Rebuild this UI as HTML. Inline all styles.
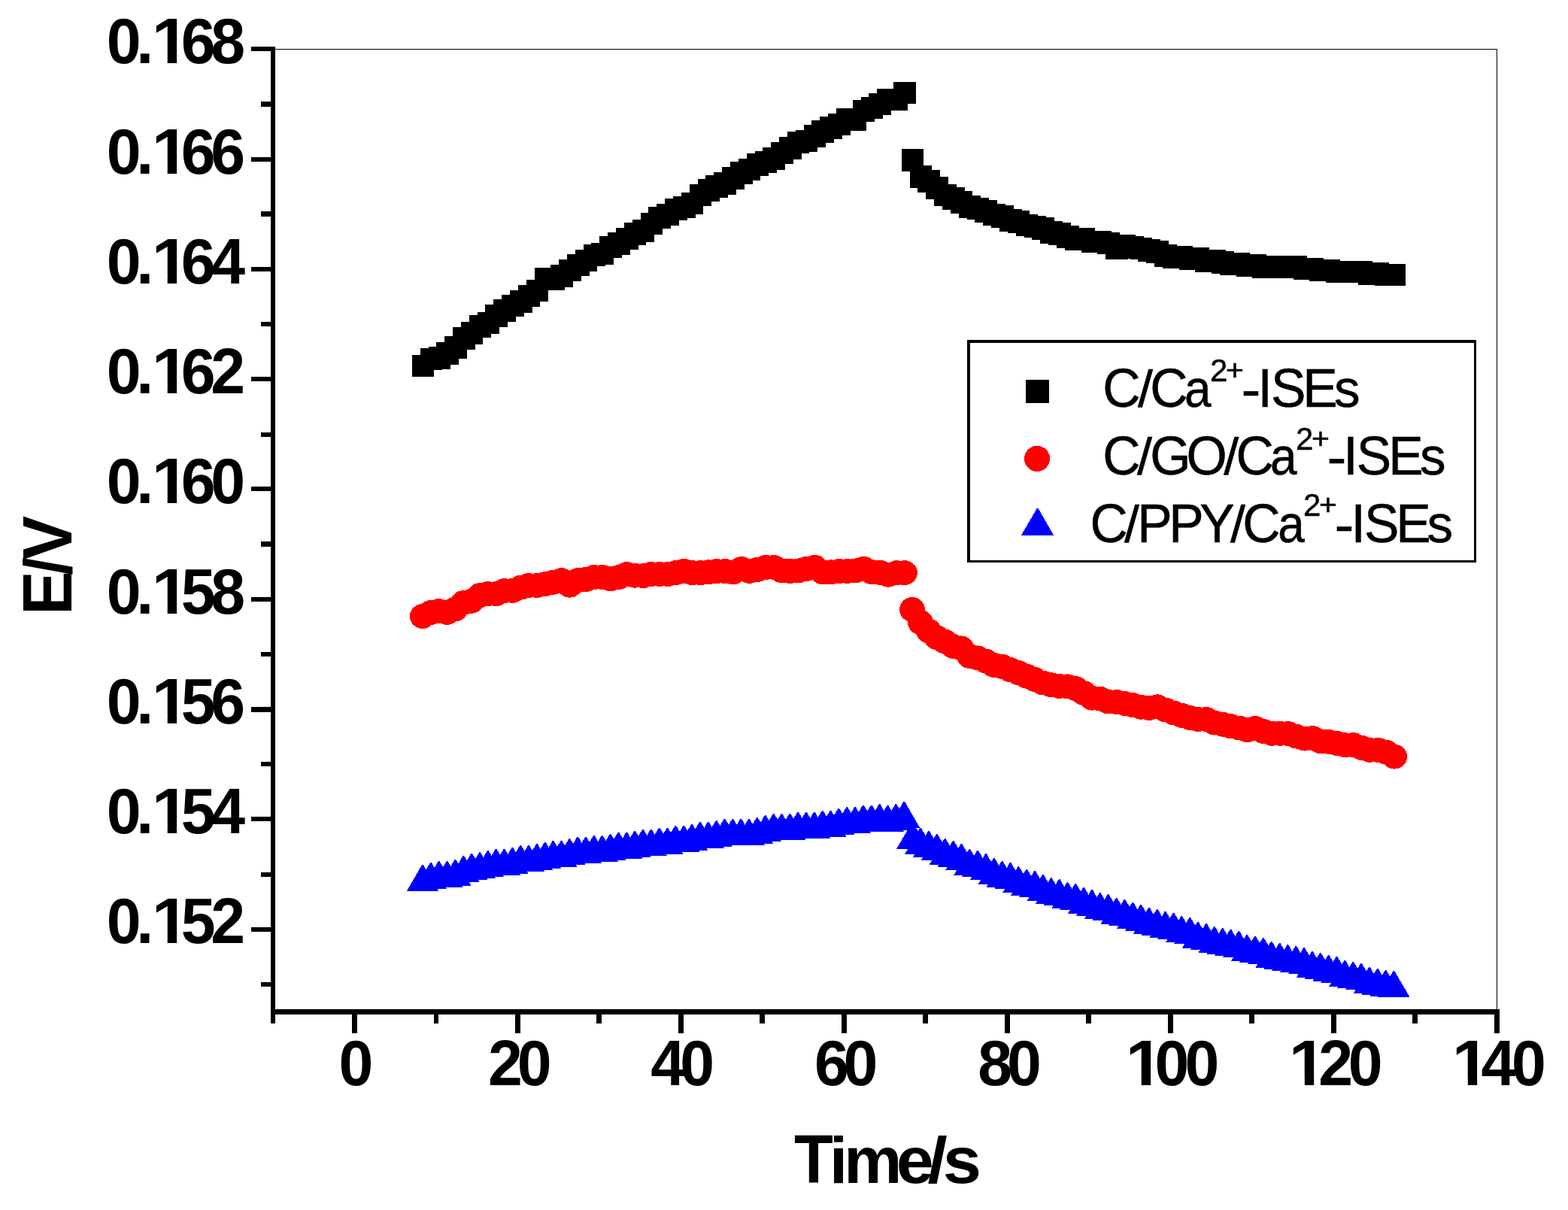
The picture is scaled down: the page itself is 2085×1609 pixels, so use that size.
<!DOCTYPE html>
<html lang="en">
<head>
<meta charset="utf-8">
<title>E/V vs Time/s</title>
<style>
html,body{margin:0;padding:0;background:#fff;}
body{width:2085px;height:1609px;overflow:hidden;}
svg{display:block;}
text{font-family:"Liberation Sans",sans-serif;fill:#000;white-space:pre;}
text.b{font-weight:bold;}
text.r{font-weight:normal;stroke:#000;stroke-width:0.5px;stroke-linejoin:miter;}
</style>
</head>
<body>
<svg width="2085" height="1609" viewBox="0 0 2085 1609">
<rect x="0" y="0" width="2085" height="1609" fill="#fff"/>
<g id="axes" shape-rendering="crispEdges" fill="#000">
<rect x="366" y="65" width="1625" height="1"/>
<rect x="1990" y="65" width="1" height="1277"/>
<rect x="360" y="62" width="6" height="1299"/>
<rect x="360" y="1342" width="1634" height="7"/>
<rect x="334" y="62" width="26" height="6"/>
<rect x="334" y="209" width="26" height="6"/>
<rect x="334" y="355" width="26" height="6"/>
<rect x="334" y="501" width="26" height="6"/>
<rect x="334" y="647" width="26" height="6"/>
<rect x="334" y="794" width="26" height="6"/>
<rect x="334" y="940" width="26" height="7"/>
<rect x="334" y="1086" width="26" height="6"/>
<rect x="334" y="1233" width="26" height="6"/>
<rect x="347" y="135" width="13" height="7"/>
<rect x="347" y="281" width="13" height="7"/>
<rect x="347" y="428" width="13" height="6"/>
<rect x="347" y="575" width="13" height="6"/>
<rect x="347" y="720" width="13" height="7"/>
<rect x="347" y="867" width="13" height="6"/>
<rect x="347" y="1013" width="13" height="6"/>
<rect x="347" y="1160" width="13" height="6"/>
<rect x="347" y="1306" width="13" height="6"/>
<rect x="468" y="1349" width="7" height="25"/>
<rect x="685" y="1349" width="7" height="25"/>
<rect x="902" y="1349" width="7" height="25"/>
<rect x="1119" y="1349" width="7" height="25"/>
<rect x="1336" y="1349" width="7" height="25"/>
<rect x="1553" y="1349" width="7" height="25"/>
<rect x="1770" y="1349" width="7" height="25"/>
<rect x="1987" y="1349" width="7" height="25"/>
<rect x="577" y="1349" width="6" height="12"/>
<rect x="793" y="1349" width="7" height="12"/>
<rect x="1010" y="1349" width="7" height="12"/>
<rect x="1227" y="1349" width="7" height="12"/>
<rect x="1444" y="1349" width="7" height="12"/>
<rect x="1661" y="1349" width="7" height="12"/>
<rect x="1878" y="1349" width="7" height="12"/>
</g>
<g id="series-c" shape-rendering="crispEdges" fill="#000">
<rect x="548" y="472" width="29" height="29"/>
<rect x="559" y="463" width="29" height="29"/>
<rect x="570" y="461" width="29" height="30"/>
<rect x="580" y="455" width="30" height="30"/>
<rect x="591" y="447" width="30" height="30"/>
<rect x="602" y="435" width="30" height="30"/>
<rect x="613" y="428" width="29" height="30"/>
<rect x="624" y="419" width="29" height="30"/>
<rect x="635" y="415" width="29" height="29"/>
<rect x="645" y="405" width="30" height="30"/>
<rect x="656" y="398" width="30" height="30"/>
<rect x="667" y="392" width="30" height="29"/>
<rect x="678" y="386" width="30" height="30"/>
<rect x="689" y="379" width="29" height="29"/>
<rect x="700" y="372" width="29" height="29"/>
<rect x="711" y="356" width="29" height="30"/>
<rect x="721" y="356" width="30" height="30"/>
<rect x="732" y="352" width="30" height="30"/>
<rect x="743" y="345" width="30" height="29"/>
<rect x="754" y="338" width="30" height="29"/>
<rect x="765" y="332" width="29" height="29"/>
<rect x="776" y="325" width="29" height="29"/>
<rect x="786" y="323" width="30" height="29"/>
<rect x="797" y="314" width="30" height="29"/>
<rect x="808" y="309" width="30" height="30"/>
<rect x="819" y="303" width="30" height="29"/>
<rect x="830" y="296" width="29" height="30"/>
<rect x="841" y="292" width="29" height="30"/>
<rect x="852" y="283" width="29" height="29"/>
<rect x="862" y="275" width="30" height="29"/>
<rect x="873" y="271" width="30" height="29"/>
<rect x="884" y="264" width="30" height="29"/>
<rect x="895" y="261" width="30" height="29"/>
<rect x="906" y="256" width="29" height="29"/>
<rect x="917" y="245" width="29" height="29"/>
<rect x="928" y="238" width="29" height="30"/>
<rect x="938" y="233" width="30" height="30"/>
<rect x="949" y="229" width="30" height="30"/>
<rect x="960" y="222" width="30" height="30"/>
<rect x="971" y="215" width="30" height="30"/>
<rect x="982" y="211" width="29" height="29"/>
<rect x="993" y="204" width="29" height="30"/>
<rect x="1004" y="201" width="29" height="29"/>
<rect x="1014" y="196" width="30" height="30"/>
<rect x="1025" y="189" width="30" height="29"/>
<rect x="1036" y="182" width="30" height="30"/>
<rect x="1047" y="175" width="29" height="29"/>
<rect x="1058" y="173" width="29" height="29"/>
<rect x="1069" y="166" width="29" height="30"/>
<rect x="1079" y="160" width="30" height="30"/>
<rect x="1090" y="155" width="30" height="30"/>
<rect x="1101" y="151" width="30" height="29"/>
<rect x="1112" y="144" width="30" height="30"/>
<rect x="1123" y="144" width="29" height="30"/>
<rect x="1134" y="133" width="29" height="29"/>
<rect x="1145" y="129" width="29" height="29"/>
<rect x="1155" y="124" width="30" height="29"/>
<rect x="1166" y="118" width="30" height="29"/>
<rect x="1177" y="118" width="30" height="29"/>
<rect x="1188" y="109" width="30" height="29"/>
<rect x="1199" y="198" width="29" height="30"/>
<rect x="1210" y="220" width="29" height="30"/>
<rect x="1220" y="226" width="30" height="30"/>
<rect x="1231" y="235" width="30" height="30"/>
<rect x="1242" y="245" width="30" height="29"/>
<rect x="1253" y="249" width="30" height="30"/>
<rect x="1264" y="254" width="29" height="30"/>
<rect x="1275" y="260" width="29" height="30"/>
<rect x="1286" y="263" width="29" height="29"/>
<rect x="1296" y="266" width="30" height="30"/>
<rect x="1307" y="271" width="30" height="29"/>
<rect x="1318" y="273" width="30" height="30"/>
<rect x="1329" y="278" width="30" height="30"/>
<rect x="1340" y="280" width="29" height="30"/>
<rect x="1351" y="285" width="29" height="29"/>
<rect x="1362" y="287" width="29" height="29"/>
<rect x="1372" y="289" width="30" height="30"/>
<rect x="1383" y="294" width="30" height="30"/>
<rect x="1394" y="296" width="30" height="30"/>
<rect x="1405" y="300" width="30" height="30"/>
<rect x="1416" y="303" width="29" height="30"/>
<rect x="1427" y="303" width="29" height="30"/>
<rect x="1438" y="307" width="29" height="29"/>
<rect x="1448" y="307" width="30" height="29"/>
<rect x="1459" y="309" width="30" height="29"/>
<rect x="1470" y="316" width="30" height="29"/>
<rect x="1481" y="312" width="29" height="29"/>
<rect x="1492" y="314" width="29" height="30"/>
<rect x="1503" y="316" width="29" height="29"/>
<rect x="1513" y="318" width="30" height="30"/>
<rect x="1524" y="320" width="30" height="30"/>
<rect x="1535" y="325" width="30" height="30"/>
<rect x="1546" y="327" width="30" height="30"/>
<rect x="1557" y="327" width="29" height="30"/>
<rect x="1568" y="329" width="29" height="30"/>
<rect x="1579" y="329" width="29" height="30"/>
<rect x="1589" y="332" width="30" height="30"/>
<rect x="1600" y="332" width="30" height="30"/>
<rect x="1611" y="334" width="30" height="30"/>
<rect x="1622" y="336" width="30" height="30"/>
<rect x="1633" y="336" width="29" height="30"/>
<rect x="1644" y="338" width="29" height="30"/>
<rect x="1654" y="338" width="30" height="30"/>
<rect x="1665" y="340" width="30" height="30"/>
<rect x="1676" y="340" width="30" height="30"/>
<rect x="1687" y="340" width="30" height="30"/>
<rect x="1698" y="340" width="29" height="30"/>
<rect x="1709" y="340" width="29" height="30"/>
<rect x="1720" y="343" width="29" height="29"/>
<rect x="1730" y="343" width="30" height="29"/>
<rect x="1741" y="345" width="30" height="29"/>
<rect x="1752" y="345" width="30" height="29"/>
<rect x="1763" y="347" width="30" height="29"/>
<rect x="1774" y="347" width="29" height="29"/>
<rect x="1785" y="347" width="29" height="29"/>
<rect x="1796" y="347" width="29" height="29"/>
<rect x="1806" y="349" width="30" height="30"/>
<rect x="1817" y="349" width="30" height="30"/>
<rect x="1828" y="351" width="30" height="29"/>
<rect x="1839" y="351" width="30" height="29"/>
</g>
<g id="series-go" fill="#f00" shape-rendering="crispEdges">
<ellipse cx="561.9" cy="819.5" rx="17" ry="16.5"/>
<ellipse cx="572.8" cy="814.7" rx="17" ry="16.5"/>
<ellipse cx="583.6" cy="812.6" rx="17" ry="16.5"/>
<ellipse cx="594.5" cy="814.5" rx="17" ry="16.5"/>
<ellipse cx="605.4" cy="810.0" rx="17" ry="16.5"/>
<ellipse cx="616.2" cy="801.6" rx="17" ry="16.5"/>
<ellipse cx="627.1" cy="799.2" rx="17" ry="16.5"/>
<ellipse cx="638.0" cy="791.7" rx="17" ry="16.5"/>
<ellipse cx="648.8" cy="789.7" rx="17" ry="16.5"/>
<ellipse cx="659.7" cy="789.7" rx="17" ry="16.5"/>
<ellipse cx="670.5" cy="785.6" rx="17" ry="16.5"/>
<ellipse cx="681.4" cy="785.4" rx="17" ry="16.5"/>
<ellipse cx="692.3" cy="781.2" rx="17" ry="16.5"/>
<ellipse cx="703.1" cy="778.5" rx="17" ry="16.5"/>
<ellipse cx="714.0" cy="778.4" rx="17" ry="16.5"/>
<ellipse cx="724.9" cy="776.7" rx="17" ry="16.5"/>
<ellipse cx="735.7" cy="774.2" rx="17" ry="16.5"/>
<ellipse cx="746.6" cy="771.7" rx="17" ry="16.5"/>
<ellipse cx="757.5" cy="778.2" rx="17" ry="16.5"/>
<ellipse cx="768.3" cy="771.7" rx="17" ry="16.5"/>
<ellipse cx="779.2" cy="770.4" rx="17" ry="16.5"/>
<ellipse cx="790.1" cy="767.5" rx="17" ry="16.5"/>
<ellipse cx="800.9" cy="767.5" rx="17" ry="16.5"/>
<ellipse cx="811.8" cy="769.8" rx="17" ry="16.5"/>
<ellipse cx="822.7" cy="767.5" rx="17" ry="16.5"/>
<ellipse cx="833.5" cy="763.6" rx="17" ry="16.5"/>
<ellipse cx="844.4" cy="765.2" rx="17" ry="16.5"/>
<ellipse cx="855.3" cy="765.6" rx="17" ry="16.5"/>
<ellipse cx="866.1" cy="763.6" rx="17" ry="16.5"/>
<ellipse cx="877.0" cy="763.6" rx="17" ry="16.5"/>
<ellipse cx="887.8" cy="763.6" rx="17" ry="16.5"/>
<ellipse cx="898.7" cy="761.7" rx="17" ry="16.5"/>
<ellipse cx="909.6" cy="759.4" rx="17" ry="16.5"/>
<ellipse cx="920.4" cy="761.7" rx="17" ry="16.5"/>
<ellipse cx="931.3" cy="761.7" rx="17" ry="16.5"/>
<ellipse cx="942.2" cy="760.8" rx="17" ry="16.5"/>
<ellipse cx="953.0" cy="759.4" rx="17" ry="16.5"/>
<ellipse cx="963.9" cy="759.4" rx="17" ry="16.5"/>
<ellipse cx="974.8" cy="761.0" rx="17" ry="16.5"/>
<ellipse cx="985.6" cy="756.5" rx="17" ry="16.5"/>
<ellipse cx="996.5" cy="759.4" rx="17" ry="16.5"/>
<ellipse cx="1007.4" cy="757.5" rx="17" ry="16.5"/>
<ellipse cx="1018.2" cy="754.4" rx="17" ry="16.5"/>
<ellipse cx="1029.1" cy="754.4" rx="17" ry="16.5"/>
<ellipse cx="1040.0" cy="758.9" rx="17" ry="16.5"/>
<ellipse cx="1050.8" cy="759.4" rx="17" ry="16.5"/>
<ellipse cx="1061.7" cy="758.9" rx="17" ry="16.5"/>
<ellipse cx="1072.6" cy="756.4" rx="17" ry="16.5"/>
<ellipse cx="1083.4" cy="754.4" rx="17" ry="16.5"/>
<ellipse cx="1094.3" cy="761.0" rx="17" ry="16.5"/>
<ellipse cx="1105.2" cy="760.8" rx="17" ry="16.5"/>
<ellipse cx="1116.0" cy="759.4" rx="17" ry="16.5"/>
<ellipse cx="1126.9" cy="759.4" rx="17" ry="16.5"/>
<ellipse cx="1137.7" cy="758.9" rx="17" ry="16.5"/>
<ellipse cx="1148.6" cy="756.4" rx="17" ry="16.5"/>
<ellipse cx="1159.5" cy="760.8" rx="17" ry="16.5"/>
<ellipse cx="1170.3" cy="761.3" rx="17" ry="16.5"/>
<ellipse cx="1181.2" cy="764.2" rx="17" ry="16.5"/>
<ellipse cx="1192.1" cy="761.7" rx="17" ry="16.5"/>
<ellipse cx="1202.9" cy="761.7" rx="17" ry="16.5"/>
<ellipse cx="1213.0" cy="810.6" rx="17" ry="16.5"/>
<ellipse cx="1223.9" cy="827.6" rx="17" ry="16.5"/>
<ellipse cx="1234.7" cy="839.0" rx="17" ry="16.5"/>
<ellipse cx="1245.6" cy="847.6" rx="17" ry="16.5"/>
<ellipse cx="1256.5" cy="853.1" rx="17" ry="16.5"/>
<ellipse cx="1267.3" cy="859.4" rx="17" ry="16.5"/>
<ellipse cx="1278.2" cy="861.9" rx="17" ry="16.5"/>
<ellipse cx="1289.1" cy="872.4" rx="17" ry="16.5"/>
<ellipse cx="1299.9" cy="874.9" rx="17" ry="16.5"/>
<ellipse cx="1310.8" cy="879.1" rx="17" ry="16.5"/>
<ellipse cx="1321.7" cy="884.4" rx="17" ry="16.5"/>
<ellipse cx="1332.5" cy="886.3" rx="17" ry="16.5"/>
<ellipse cx="1343.4" cy="890.6" rx="17" ry="16.5"/>
<ellipse cx="1354.2" cy="894.5" rx="17" ry="16.5"/>
<ellipse cx="1365.1" cy="899.2" rx="17" ry="16.5"/>
<ellipse cx="1376.0" cy="903.6" rx="17" ry="16.5"/>
<ellipse cx="1386.8" cy="908.0" rx="17" ry="16.5"/>
<ellipse cx="1397.7" cy="910.8" rx="17" ry="16.5"/>
<ellipse cx="1408.6" cy="912.5" rx="17" ry="16.5"/>
<ellipse cx="1419.4" cy="912.9" rx="17" ry="16.5"/>
<ellipse cx="1430.3" cy="915.6" rx="17" ry="16.5"/>
<ellipse cx="1441.2" cy="921.7" rx="17" ry="16.5"/>
<ellipse cx="1452.0" cy="928.1" rx="17" ry="16.5"/>
<ellipse cx="1462.9" cy="929.2" rx="17" ry="16.5"/>
<ellipse cx="1473.8" cy="933.0" rx="17" ry="16.5"/>
<ellipse cx="1484.6" cy="933.5" rx="17" ry="16.5"/>
<ellipse cx="1495.5" cy="935.5" rx="17" ry="16.5"/>
<ellipse cx="1506.4" cy="937.7" rx="17" ry="16.5"/>
<ellipse cx="1517.2" cy="940.2" rx="17" ry="16.5"/>
<ellipse cx="1528.1" cy="941.6" rx="17" ry="16.5"/>
<ellipse cx="1539.0" cy="939.8" rx="17" ry="16.5"/>
<ellipse cx="1549.8" cy="944.0" rx="17" ry="16.5"/>
<ellipse cx="1560.7" cy="948.0" rx="17" ry="16.5"/>
<ellipse cx="1571.5" cy="951.3" rx="17" ry="16.5"/>
<ellipse cx="1582.4" cy="954.5" rx="17" ry="16.5"/>
<ellipse cx="1593.3" cy="956.5" rx="17" ry="16.5"/>
<ellipse cx="1604.1" cy="956.6" rx="17" ry="16.5"/>
<ellipse cx="1615.0" cy="961.1" rx="17" ry="16.5"/>
<ellipse cx="1625.9" cy="963.2" rx="17" ry="16.5"/>
<ellipse cx="1636.7" cy="965.7" rx="17" ry="16.5"/>
<ellipse cx="1647.6" cy="968.0" rx="17" ry="16.5"/>
<ellipse cx="1658.5" cy="970.6" rx="17" ry="16.5"/>
<ellipse cx="1669.3" cy="968.5" rx="17" ry="16.5"/>
<ellipse cx="1680.2" cy="972.6" rx="17" ry="16.5"/>
<ellipse cx="1691.1" cy="975.3" rx="17" ry="16.5"/>
<ellipse cx="1701.9" cy="975.3" rx="17" ry="16.5"/>
<ellipse cx="1712.8" cy="975.6" rx="17" ry="16.5"/>
<ellipse cx="1723.7" cy="979.1" rx="17" ry="16.5"/>
<ellipse cx="1734.5" cy="982.0" rx="17" ry="16.5"/>
<ellipse cx="1745.4" cy="981.6" rx="17" ry="16.5"/>
<ellipse cx="1756.2" cy="985.8" rx="17" ry="16.5"/>
<ellipse cx="1767.1" cy="986.4" rx="17" ry="16.5"/>
<ellipse cx="1778.0" cy="988.5" rx="17" ry="16.5"/>
<ellipse cx="1788.8" cy="990.8" rx="17" ry="16.5"/>
<ellipse cx="1799.7" cy="990.6" rx="17" ry="16.5"/>
<ellipse cx="1810.6" cy="994.4" rx="17" ry="16.5"/>
<ellipse cx="1821.4" cy="997.3" rx="17" ry="16.5"/>
<ellipse cx="1832.3" cy="997.3" rx="17" ry="16.5"/>
<ellipse cx="1843.2" cy="1000.2" rx="17" ry="16.5"/>
<ellipse cx="1854.0" cy="1006.1" rx="17" ry="16.5"/>
</g>
<g id="series-ppy" fill="#00f" shape-rendering="crispEdges">
<path d="M561.2 1149.9h1.6L583.2 1184.9H540.8Z"/>
<path d="M572.1 1146.9h1.6L594.1 1181.9H551.6Z"/>
<path d="M582.9 1145.1h1.6L605.0 1180.1H562.5Z"/>
<path d="M593.8 1145.1h1.6L615.8 1180.1H573.3Z"/>
<path d="M604.6 1143.0h1.6L626.6 1178.0H584.1Z"/>
<path d="M615.5 1138.0h1.6L637.5 1173.0H595.0Z"/>
<path d="M626.3 1135.0h1.6L648.4 1170.0H605.9Z"/>
<path d="M637.2 1133.4h1.6L659.2 1168.4H616.7Z"/>
<path d="M648.0 1131.1h1.6L670.0 1166.1H627.5Z"/>
<path d="M658.9 1128.8h1.6L680.9 1163.8H638.4Z"/>
<path d="M669.7 1128.8h1.6L691.8 1163.8H649.2Z"/>
<path d="M680.6 1126.9h1.6L702.6 1161.9H660.1Z"/>
<path d="M691.4 1124.0h1.6L713.5 1159.0H671.0Z"/>
<path d="M702.2 1124.0h1.6L724.3 1159.0H681.8Z"/>
<path d="M713.1 1122.1h1.6L735.1 1157.1H692.6Z"/>
<path d="M724.0 1119.8h1.6L746.0 1154.8H703.5Z"/>
<path d="M734.8 1117.9h1.6L756.9 1152.9H714.4Z"/>
<path d="M745.7 1117.9h1.6L767.7 1152.9H725.2Z"/>
<path d="M756.5 1115.2h1.6L778.5 1150.2H736.0Z"/>
<path d="M767.4 1112.9h1.6L789.4 1147.9H746.9Z"/>
<path d="M778.2 1112.9h1.6L800.2 1147.9H757.8Z"/>
<path d="M789.1 1111.0h1.6L811.1 1146.0H768.6Z"/>
<path d="M799.9 1111.0h1.6L822.0 1146.0H779.5Z"/>
<path d="M810.8 1109.1h1.6L832.8 1144.1H790.3Z"/>
<path d="M821.6 1106.8h1.6L843.6 1141.8H801.1Z"/>
<path d="M832.5 1106.8h1.6L854.5 1141.8H812.0Z"/>
<path d="M843.3 1104.8h1.6L865.3 1139.8H822.8Z"/>
<path d="M854.2 1102.9h1.6L876.2 1137.9H833.7Z"/>
<path d="M865.0 1102.9h1.6L887.0 1137.9H844.5Z"/>
<path d="M875.9 1101.0h1.6L897.9 1136.0H855.4Z"/>
<path d="M886.7 1101.0h1.6L908.8 1136.0H866.2Z"/>
<path d="M897.5 1097.9h1.6L919.6 1132.9H877.1Z"/>
<path d="M908.4 1097.9h1.6L930.5 1132.9H888.0Z"/>
<path d="M919.2 1096.0h1.6L941.3 1131.0H898.8Z"/>
<path d="M930.1 1092.9h1.6L952.1 1127.9H909.6Z"/>
<path d="M941.0 1092.9h1.6L963.0 1127.9H920.5Z"/>
<path d="M951.8 1091.0h1.6L973.8 1126.0H931.3Z"/>
<path d="M962.7 1088.9h1.6L984.7 1123.9H942.2Z"/>
<path d="M973.5 1088.9h1.6L995.5 1123.9H953.0Z"/>
<path d="M984.4 1088.9h1.6L1006.4 1123.9H963.9Z"/>
<path d="M995.2 1088.9h1.6L1017.2 1123.9H974.8Z"/>
<path d="M1006.0 1087.0h1.6L1028.1 1122.0H985.6Z"/>
<path d="M1016.9 1084.1h1.6L1039.0 1119.1H996.5Z"/>
<path d="M1027.8 1082.0h1.6L1049.8 1117.0H1007.3Z"/>
<path d="M1038.6 1082.0h1.6L1060.7 1117.0H1018.2Z"/>
<path d="M1049.5 1082.0h1.6L1071.5 1117.0H1029.0Z"/>
<path d="M1060.3 1079.9h1.6L1082.3 1114.9H1039.8Z"/>
<path d="M1071.2 1079.9h1.6L1093.2 1114.9H1050.7Z"/>
<path d="M1082.0 1079.9h1.6L1104.0 1114.9H1061.5Z"/>
<path d="M1092.9 1078.0h1.6L1114.9 1113.0H1072.4Z"/>
<path d="M1103.7 1078.0h1.6L1125.8 1113.0H1083.2Z"/>
<path d="M1114.5 1074.9h1.6L1136.6 1109.9H1094.1Z"/>
<path d="M1125.4 1073.0h1.6L1147.4 1108.0H1104.9Z"/>
<path d="M1136.2 1073.0h1.6L1158.3 1108.0H1115.8Z"/>
<path d="M1147.1 1070.7h1.6L1169.2 1105.7H1126.7Z"/>
<path d="M1158.0 1070.7h1.6L1180.0 1105.7H1137.5Z"/>
<path d="M1168.8 1069.2h1.6L1190.8 1104.2H1148.3Z"/>
<path d="M1179.6 1070.7h1.6L1201.7 1105.7H1159.2Z"/>
<path d="M1190.5 1069.2h1.6L1212.5 1104.2H1170.0Z"/>
<path d="M1201.4 1065.9h1.6L1223.4 1100.9H1180.9Z"/>
<path d="M1212.5 1094.0h1.6L1234.5 1129.0H1192.0Z"/>
<path d="M1223.3 1101.1h1.6L1245.4 1136.1H1202.9Z"/>
<path d="M1234.2 1105.1h1.6L1256.2 1140.1H1213.8Z"/>
<path d="M1245.0 1109.1h1.6L1267.1 1144.1H1224.6Z"/>
<path d="M1255.9 1115.1h1.6L1278.0 1150.1H1235.5Z"/>
<path d="M1266.8 1118.0h1.6L1288.8 1153.0H1246.3Z"/>
<path d="M1277.6 1122.0h1.6L1299.6 1157.0H1257.1Z"/>
<path d="M1288.5 1129.1h1.6L1310.5 1164.1H1268.0Z"/>
<path d="M1299.3 1131.0h1.6L1321.3 1166.0H1278.8Z"/>
<path d="M1310.2 1135.2h1.6L1332.2 1170.2H1289.7Z"/>
<path d="M1321.0 1141.0h1.6L1343.0 1176.0H1300.5Z"/>
<path d="M1331.8 1145.0h1.6L1353.9 1180.0H1311.4Z"/>
<path d="M1342.7 1147.1h1.6L1364.8 1182.1H1322.2Z"/>
<path d="M1353.5 1152.1h1.6L1375.6 1187.1H1333.1Z"/>
<path d="M1364.4 1156.1h1.6L1386.5 1191.1H1344.0Z"/>
<path d="M1375.2 1158.1h1.6L1397.3 1193.1H1354.8Z"/>
<path d="M1386.1 1163.0h1.6L1408.1 1198.0H1365.6Z"/>
<path d="M1397.0 1167.3h1.6L1419.0 1202.3H1376.5Z"/>
<path d="M1407.8 1169.2h1.6L1429.8 1204.2H1387.3Z"/>
<path d="M1418.7 1173.2h1.6L1440.7 1208.2H1398.2Z"/>
<path d="M1429.5 1175.1h1.6L1451.5 1210.1H1409.0Z"/>
<path d="M1440.3 1180.1h1.6L1462.4 1215.1H1419.9Z"/>
<path d="M1451.2 1183.2h1.6L1473.2 1218.2H1430.8Z"/>
<path d="M1462.0 1187.2h1.6L1484.1 1222.2H1441.6Z"/>
<path d="M1472.9 1189.1h1.6L1494.9 1224.1H1452.4Z"/>
<path d="M1483.8 1194.1h1.6L1505.8 1229.1H1463.3Z"/>
<path d="M1494.6 1196.0h1.6L1516.6 1231.0H1474.1Z"/>
<path d="M1505.5 1200.0h1.6L1527.5 1235.0H1485.0Z"/>
<path d="M1516.3 1202.9h1.6L1538.3 1237.9H1495.8Z"/>
<path d="M1527.1 1207.0h1.6L1549.2 1242.0H1506.7Z"/>
<path d="M1538.0 1209.1h1.6L1560.0 1244.1H1517.5Z"/>
<path d="M1548.8 1211.9h1.6L1570.9 1246.9H1528.4Z"/>
<path d="M1559.7 1213.9h1.6L1581.8 1248.9H1539.2Z"/>
<path d="M1570.5 1218.1h1.6L1592.6 1253.1H1550.1Z"/>
<path d="M1581.4 1220.0h1.6L1603.4 1255.0H1560.9Z"/>
<path d="M1592.2 1225.9h1.6L1614.3 1260.9H1571.8Z"/>
<path d="M1603.1 1228.1h1.6L1625.1 1263.1H1582.6Z"/>
<path d="M1614.0 1232.1h1.6L1636.0 1267.1H1593.5Z"/>
<path d="M1624.8 1234.0h1.6L1646.8 1269.0H1604.3Z"/>
<path d="M1635.6 1235.9h1.6L1657.7 1270.9H1615.2Z"/>
<path d="M1646.5 1238.0h1.6L1668.5 1273.0H1626.0Z"/>
<path d="M1657.3 1243.0h1.6L1679.4 1278.0H1636.9Z"/>
<path d="M1668.2 1244.9h1.6L1690.2 1279.9H1647.8Z"/>
<path d="M1679.0 1247.1h1.6L1701.1 1282.1H1658.6Z"/>
<path d="M1689.9 1252.0h1.6L1711.9 1287.0H1669.4Z"/>
<path d="M1700.8 1254.0h1.6L1722.8 1289.0H1680.3Z"/>
<path d="M1711.6 1256.1h1.6L1733.6 1291.1H1691.1Z"/>
<path d="M1722.5 1258.0h1.6L1744.5 1293.0H1702.0Z"/>
<path d="M1733.3 1260.1h1.6L1755.3 1295.1H1712.8Z"/>
<path d="M1744.1 1265.1h1.6L1766.2 1300.1H1723.7Z"/>
<path d="M1755.0 1267.0h1.6L1777.0 1302.0H1734.5Z"/>
<path d="M1765.9 1270.1h1.6L1787.9 1305.1H1745.4Z"/>
<path d="M1776.7 1272.0h1.6L1798.8 1307.0H1756.2Z"/>
<path d="M1787.5 1277.0h1.6L1809.6 1312.0H1767.1Z"/>
<path d="M1798.4 1279.1h1.6L1820.4 1314.1H1777.9Z"/>
<path d="M1809.2 1281.0h1.6L1831.3 1316.0H1788.8Z"/>
<path d="M1820.1 1286.0h1.6L1842.2 1321.0H1799.7Z"/>
<path d="M1831.0 1287.9h1.6L1853.0 1322.9H1810.5Z"/>
<path d="M1841.8 1290.0h1.6L1863.8 1325.0H1821.3Z"/>
<path d="M1852.6 1291.0h1.6L1874.7 1326.0H1832.2Z"/>
</g>
<g id="ylabels">
<text class="b" transform="translate(0 83.8) scale(1 1.0412)" y="0" font-size="82.4"><tspan x="141.7 181.3">0.</tspan><tspan x="201.7" textLength="50.04" lengthAdjust="spacingAndGlyphs">1</tspan><tspan x="240.8 280.3">68</tspan></text>
<text class="b" transform="translate(0 230.8) scale(1 1.0412)" y="0" font-size="82.4"><tspan x="141.7 181.3">0.</tspan><tspan x="201.7" textLength="50.04" lengthAdjust="spacingAndGlyphs">1</tspan><tspan x="240.8 280.3">66</tspan></text>
<text class="b" transform="translate(0 376.8) scale(1 1.0412)" y="0" font-size="82.4"><tspan x="141.7 181.3">0.</tspan><tspan x="201.7" textLength="50.04" lengthAdjust="spacingAndGlyphs">1</tspan><tspan x="240.8 280.3">64</tspan></text>
<text class="b" transform="translate(0 522.8) scale(1 1.0412)" y="0" font-size="82.4"><tspan x="141.7 181.3">0.</tspan><tspan x="201.7" textLength="50.04" lengthAdjust="spacingAndGlyphs">1</tspan><tspan x="240.8 280.3">62</tspan></text>
<text class="b" transform="translate(0 668.8) scale(1 1.0412)" y="0" font-size="82.4"><tspan x="141.7 181.3">0.</tspan><tspan x="201.7" textLength="50.04" lengthAdjust="spacingAndGlyphs">1</tspan><tspan x="240.8 280.3">60</tspan></text>
<text class="b" transform="translate(0 815.8) scale(1 1.0412)" y="0" font-size="82.4"><tspan x="141.7 181.3">0.</tspan><tspan x="201.7" textLength="50.04" lengthAdjust="spacingAndGlyphs">1</tspan><tspan x="240.8 280.3">58</tspan></text>
<text class="b" transform="translate(0 961.8) scale(1 1.0412)" y="0" font-size="82.4"><tspan x="141.7 181.3">0.</tspan><tspan x="201.7" textLength="50.04" lengthAdjust="spacingAndGlyphs">1</tspan><tspan x="240.8 280.3">56</tspan></text>
<text class="b" transform="translate(0 1107.8) scale(1 1.0412)" y="0" font-size="82.4"><tspan x="141.7 181.3">0.</tspan><tspan x="201.7" textLength="50.04" lengthAdjust="spacingAndGlyphs">1</tspan><tspan x="240.8 280.3">54</tspan></text>
<text class="b" transform="translate(0 1254.3) scale(1 1.0412)" y="0" font-size="82.4"><tspan x="141.7 181.3">0.</tspan><tspan x="201.7" textLength="50.04" lengthAdjust="spacingAndGlyphs">1</tspan><tspan x="240.8 280.3">52</tspan></text>
</g>
<g id="xlabels">
<text class="b" transform="translate(0 1443) scale(1 1.0412)" y="0" font-size="82.4"><tspan x="450.4">0</tspan></text>
<text class="b" transform="translate(0 1443) scale(1 1.0412)" y="0" font-size="82.4"><tspan x="649.1 687.85">20</tspan></text>
<text class="b" transform="translate(0 1443) scale(1 1.0412)" y="0" font-size="82.4"><tspan x="865.35 904.3">40</tspan></text>
<text class="b" transform="translate(0 1443) scale(1 1.0412)" y="0" font-size="82.4"><tspan x="1082.9 1121.4">60</tspan></text>
<text class="b" transform="translate(0 1443) scale(1 1.0412)" y="0" font-size="82.4"><tspan x="1300.3 1339">80</tspan></text>
<text class="b" transform="translate(0 1443) scale(1 1.0412)" y="0" font-size="82.4"><tspan x="1496.75" textLength="50.04" lengthAdjust="spacingAndGlyphs">1</tspan><tspan x="1535.4 1575.6">00</tspan></text>
<text class="b" transform="translate(0 1443) scale(1 1.0412)" y="0" font-size="82.4"><tspan x="1713.85" textLength="50.04" lengthAdjust="spacingAndGlyphs">1</tspan><tspan x="1753.3 1792.75">20</tspan></text>
<text class="b" transform="translate(0 1443) scale(1 1.0412)" y="0" font-size="82.4"><tspan x="1930.85" textLength="50.04" lengthAdjust="spacingAndGlyphs">1</tspan><tspan x="1969.55 2009.9">40</tspan></text>
</g>
<g id="serif-mask" fill="#fff" shape-rendering="crispEdges">
<rect x="207" y="74" width="15" height="10"/>
<rect x="236" y="74" width="11" height="1"/>
<rect x="236" y="75" width="12" height="2"/>
<rect x="236" y="77" width="13" height="1"/>
<rect x="236" y="78" width="14" height="6"/>
<rect x="207" y="221" width="15" height="10"/>
<rect x="236" y="221" width="11" height="1"/>
<rect x="236" y="222" width="12" height="2"/>
<rect x="236" y="224" width="13" height="1"/>
<rect x="236" y="225" width="14" height="6"/>
<rect x="207" y="367" width="15" height="10"/>
<rect x="236" y="367" width="11" height="1"/>
<rect x="236" y="368" width="12" height="2"/>
<rect x="236" y="370" width="13" height="1"/>
<rect x="236" y="371" width="14" height="6"/>
<rect x="207" y="513" width="15" height="10"/>
<rect x="236" y="513" width="11" height="1"/>
<rect x="236" y="514" width="12" height="2"/>
<rect x="236" y="516" width="13" height="1"/>
<rect x="236" y="517" width="14" height="6"/>
<rect x="207" y="659" width="15" height="10"/>
<rect x="236" y="659" width="11" height="1"/>
<rect x="236" y="660" width="12" height="2"/>
<rect x="236" y="662" width="13" height="1"/>
<rect x="236" y="663" width="14" height="6"/>
<rect x="207" y="806" width="15" height="10"/>
<rect x="236" y="806" width="9" height="2"/>
<rect x="236" y="808" width="10" height="2"/>
<rect x="236" y="810" width="11" height="1"/>
<rect x="236" y="811" width="12" height="1"/>
<rect x="236" y="812" width="13" height="1"/>
<rect x="236" y="813" width="14" height="3"/>
<rect x="207" y="952" width="15" height="10"/>
<rect x="236" y="952" width="9" height="2"/>
<rect x="236" y="954" width="10" height="2"/>
<rect x="236" y="956" width="11" height="1"/>
<rect x="236" y="957" width="12" height="1"/>
<rect x="236" y="958" width="13" height="1"/>
<rect x="236" y="959" width="14" height="3"/>
<rect x="207" y="1098" width="15" height="10"/>
<rect x="236" y="1098" width="9" height="2"/>
<rect x="236" y="1100" width="10" height="2"/>
<rect x="236" y="1102" width="11" height="1"/>
<rect x="236" y="1103" width="12" height="1"/>
<rect x="236" y="1104" width="13" height="1"/>
<rect x="236" y="1105" width="14" height="3"/>
<rect x="207" y="1245" width="15" height="10"/>
<rect x="236" y="1245" width="9" height="1"/>
<rect x="236" y="1246" width="10" height="2"/>
<rect x="236" y="1248" width="11" height="1"/>
<rect x="236" y="1249" width="12" height="1"/>
<rect x="236" y="1250" width="13" height="1"/>
<rect x="236" y="1251" width="14" height="4"/>
<rect x="1502" y="1434" width="15" height="10"/>
<rect x="1531" y="1434" width="12" height="2"/>
<rect x="1531" y="1436" width="13" height="2"/>
<rect x="1531" y="1438" width="14" height="6"/>
<rect x="1719" y="1434" width="15" height="10"/>
<rect x="1748" y="1434" width="8" height="9"/>
<rect x="1748" y="1443" width="14" height="1"/>
<rect x="1936" y="1434" width="15" height="10"/>
<rect x="1965" y="1434" width="14" height="10"/>
</g>
<g id="serif-mask-edge" fill="#fff">
<rect x="222" y="74" width="0.7" height="10"/>
<rect x="235.05" y="74" width="0.95" height="10"/>
<rect x="222" y="221" width="0.7" height="10"/>
<rect x="235.05" y="221" width="0.95" height="10"/>
<rect x="222" y="367" width="0.7" height="10"/>
<rect x="235.05" y="367" width="0.95" height="10"/>
<rect x="222" y="513" width="0.7" height="10"/>
<rect x="235.05" y="513" width="0.95" height="10"/>
<rect x="222" y="659" width="0.7" height="10"/>
<rect x="235.05" y="659" width="0.95" height="10"/>
<rect x="222" y="806" width="0.7" height="10"/>
<rect x="235.05" y="806" width="0.95" height="10"/>
<rect x="222" y="952" width="0.7" height="10"/>
<rect x="235.05" y="952" width="0.95" height="10"/>
<rect x="222" y="1098" width="0.7" height="10"/>
<rect x="235.05" y="1098" width="0.95" height="10"/>
<rect x="222" y="1245" width="0.7" height="10"/>
<rect x="235.05" y="1245" width="0.95" height="10"/>
<rect x="1517" y="1434" width="0.75" height="10"/>
<rect x="1530.1" y="1434" width="0.9" height="10"/>
<rect x="1734" y="1434" width="0.85" height="10"/>
<rect x="1747.2" y="1434" width="0.8" height="10"/>
<rect x="1951" y="1434" width="0.85" height="10"/>
<rect x="1964.2" y="1434" width="0.8" height="10"/>
</g>
<clipPath id="tclip"><rect x="1000" y="-80" width="400" height="81"/></clipPath>
<text class="b" transform="translate(0 1573) scale(1 1.0000)" clip-path="url(#tclip)"><tspan x="1056.03" y="0" font-size="91.3" textLength="51.87" lengthAdjust="spacingAndGlyphs">T</tspan><tspan x="1102.94 1122.35" y="0" font-size="86.67">im</tspan><tspan x="1191.67" y="0" font-size="86.67" textLength="50.04" lengthAdjust="spacingAndGlyphs">e</tspan><tspan x="1233.37" y="0" font-size="86.67" textLength="26.57" lengthAdjust="spacingAndGlyphs">/</tspan><tspan x="1253.81" y="0" font-size="86.67" textLength="51.21" lengthAdjust="spacingAndGlyphs">s</tspan></text>
<text class="b" transform="translate(95 818) rotate(-90) scale(1 1.0600)"><tspan x="0.11" y="0" font-size="88">E</tspan><tspan x="53.49" y="0" font-size="83.4">/</tspan><tspan x="73.5" y="0" font-size="88">V</tspan></text>
<g id="legend-box" shape-rendering="crispEdges" fill="#000">
<rect x="1286" y="452" width="677" height="4"/>
<rect x="1286" y="452" width="4" height="296"/>
<rect x="1960" y="452" width="3" height="296"/>
<rect x="1286" y="745" width="677" height="3"/>
</g>
<rect x="1364" y="505" width="31" height="31" fill="#000" shape-rendering="crispEdges"/>
<circle cx="1379.1" cy="609.9" r="17.1" fill="#f00" shape-rendering="crispEdges"/>
<path d="M1378.9 675.8h1.6L1401.2 712H1357.9Z" fill="#00f" shape-rendering="crispEdges"/>
<g id="legend-text">
<text class="r" transform="translate(0 541) scale(1 1.0300)"><tspan x="1466.26" y="0" font-size="69.7">C</tspan><tspan x="1512.95" y="0" font-size="66.9" textLength="20" lengthAdjust="spacingAndGlyphs">/</tspan><tspan x="1529.21" y="0" font-size="69.7">C</tspan><tspan x="1574.94" y="0" font-size="67.6" textLength="35.51" lengthAdjust="spacingAndGlyphs">a</tspan><tspan x="1608.89" y="-33.3" font-size="42">2</tspan><tspan x="1630.1" y="-34.66" font-size="37.3" textLength="23.92" lengthAdjust="spacingAndGlyphs">+</tspan><tspan x="1650.49" y="1.26" font-size="69.7" textLength="25.92" lengthAdjust="spacingAndGlyphs">-</tspan><tspan x="1672.57 1689.93 1732.28" y="0" font-size="69.7">ISE</tspan><tspan x="1774.02" y="0" font-size="67.6" textLength="34.63" lengthAdjust="spacingAndGlyphs">s</tspan></text>
<text class="r" transform="translate(0 631) scale(1 1.0300)"><tspan x="1466.26" y="0" font-size="69.7">C</tspan><tspan x="1512.05" y="0" font-size="66.9" textLength="20" lengthAdjust="spacingAndGlyphs">/</tspan><tspan x="1529.24 1577.55" y="0" font-size="69.7">GO</tspan><tspan x="1627.15" y="0" font-size="66.9" textLength="20" lengthAdjust="spacingAndGlyphs">/</tspan><tspan x="1643.51" y="0" font-size="69.7">C</tspan><tspan x="1689.04" y="0" font-size="67.6" textLength="35.51" lengthAdjust="spacingAndGlyphs">a</tspan><tspan x="1722.99" y="-32.43" font-size="42">2</tspan><tspan x="1744.05" y="-33.79" font-size="37.3" textLength="23.92" lengthAdjust="spacingAndGlyphs">+</tspan><tspan x="1764.59" y="1.26" font-size="69.7" textLength="25.92" lengthAdjust="spacingAndGlyphs">-</tspan><tspan x="1786.37 1803.88 1846.33" y="0" font-size="69.7">ISE</tspan><tspan x="1888.12" y="0" font-size="67.6" textLength="34.63" lengthAdjust="spacingAndGlyphs">s</tspan></text>
<text class="r" transform="translate(0 721) scale(1 1.0300)"><tspan x="1449.56" y="0" font-size="69.7">C</tspan><tspan x="1494.9" y="0" font-size="66.9" textLength="20" lengthAdjust="spacingAndGlyphs">/</tspan><tspan x="1512.23 1554.28 1595.37" y="0" font-size="69.7">PPY</tspan><tspan x="1636.05" y="0" font-size="66.9" textLength="20" lengthAdjust="spacingAndGlyphs">/</tspan><tspan x="1652.21" y="0" font-size="69.7">C</tspan><tspan x="1699.14" y="0" font-size="67.6" textLength="35.51" lengthAdjust="spacingAndGlyphs">a</tspan><tspan x="1733.04" y="-34.22" font-size="42">2</tspan><tspan x="1754.1" y="-35.58" font-size="37.3" textLength="23.92" lengthAdjust="spacingAndGlyphs">+</tspan><tspan x="1774.44" y="1.26" font-size="69.7" textLength="25.92" lengthAdjust="spacingAndGlyphs">-</tspan><tspan x="1796.42 1814.03 1856.38" y="0" font-size="69.7">ISE</tspan><tspan x="1897.57" y="0" font-size="67.6" textLength="34.63" lengthAdjust="spacingAndGlyphs">s</tspan></text>
</g>
</svg>
</body>
</html>
